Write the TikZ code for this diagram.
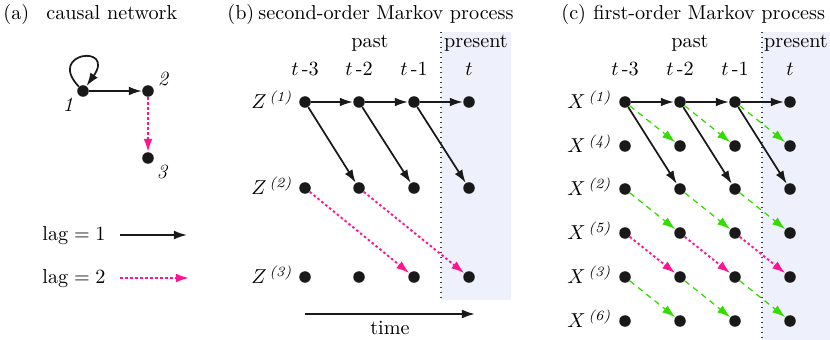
\documentclass[tikz,border=0pt]{standalone}
\usepackage{amsmath}
\usetikzlibrary{arrows.meta}
\definecolor{lagpink}{HTML}{FF1493}
\definecolor{laggreen}{HTML}{33DD00}
\definecolor{shadebg}{HTML}{EEF0FC}
\begin{document}
\begin{tikzpicture}[x=0.52pt,y=-0.52pt,
  every node/.append style={scale=1.05},
  dot/.style={circle,fill=black!90,inner sep=0pt,minimum size=5.7pt},
  tip/.style={-{Latex[length=6.8pt,width=4.6pt]}},
  lagone/.style={tip,draw=black!90,line width=0.9pt},
  lagtwo/.style={tip,draw=lagpink,line width=1pt,dash pattern=on 1.3pt off 1.3pt},
  lagg/.style={tip,draw=laggreen,line width=0.65pt,dash pattern=on 3pt off 2.5pt},
  title/.style={anchor=base west,inner sep=0pt},
  rowlab/.style={anchor=east,inner sep=0pt},
  nlab/.style={inner sep=0pt,font=\itshape},
  sep/.style={draw=black!75,line width=0.6pt,dotted}]
\useasboundingbox (0,0) rectangle (830,340);
% shading
\fill[shadebg] (441,32) rectangle (511,300);
\fill[shadebg] (762,32) rectangle (830,340);
\draw[sep] (441,32) -- (441,300);
\draw[sep] (762,32) -- (762,340);
% titles
\node[title] (ta) at (3,20) {(a)};
\node[title] (tan) at (46,20) {causal network};
\node[title] (tb) at (227,20) {(b)};
\node[title] (tbn) at (258,20) {second-order Markov process};
\node[title] (tc) at (561,20) {(c)};
\node[title] (tcn) at (593,20) {first-order Markov process};
% panel (a)
\node[dot] (a1) at (83,91) {};
\node[dot] (a2) at (148,91) {};
\node[dot] (a3) at (148,158) {};
\node[nlab] (l1) at (68,105) {1};
\node[nlab] (l2) at (163,79) {2};
\node[nlab] (l3) at (162,172) {3};
\draw[lagone] (a1) .. controls (46,52) and (116,44) .. (a1);
\draw[lagone] (a1) -- (a2);
\draw[lagtwo] (a2) -- (a3);
% legend
\node[anchor=base west,inner sep=0pt] (lg1) at (42,240) {$\mathrm{lag}=1$};
\node[anchor=base west,inner sep=0pt] (lg2) at (42,283) {$\mathrm{lag}=2$};
\coordinate (lg1a) at (120,235);
\coordinate (lg1b) at (187,235);
\coordinate (lg2a) at (120,278);
\coordinate (lg2b) at (189,278);
\draw[lagone] (lg1a) -- (lg1b);
\draw[lagtwo] (lg2a) -- (lg2b);
% panel (b)
\node (bpast) at (370,43) {past};
\node (bpres) at (476,43) {present};
\foreach \c/\x/\t in {0/305/{$t\,$-3},1/359/{$t\,$-2},2/414/{$t\,$-1},3/469/{$t$}}{
  \node (bt\c) at (\x,69) {\t};
  \node[dot] (z1\c) at (\x,102) {};
  \node[dot] (z2\c) at (\x,188) {};
  \node[dot] (z3\c) at (\x,277) {};
}
\node[rowlab] (bz1) at (293,100) {$Z^{\,\textit{(1)}}$};
\node[rowlab] (bz2) at (293,186) {$Z^{\,\textit{(2)}}$};
\node[rowlab] (bz3) at (293,275) {$Z^{\,\textit{(3)}}$};
\foreach \a/\b in {0/1,1/2,2/3}{
  \draw[lagone] (z1\a) -- (z1\b);
  \draw[lagone] (z1\a) -- (z2\b);
}
\draw[lagtwo] (z20) -- (z32);
\draw[lagtwo] (z21) -- (z33);
\coordinate (tm1) at (305,314);
\coordinate (tm2) at (475,314);
\draw[tip,line width=1pt,draw=black!90] (tm1) -- (tm2);
\node (tmlab) at (390,328) {time};
% panel (c)
\node (cpast) at (690,43) {past};
\node (cpres) at (796,43) {present};
\foreach \c/\x/\t in {0/625/{$t\,$-3},1/680/{$t\,$-2},2/735/{$t\,$-1},3/790/{$t$}}{
  \node (ct\c) at (\x,69) {\t};
  \node[dot] (x1\c) at (\x,102) {};
  \node[dot] (x4\c) at (\x,146) {};
  \node[dot] (x2\c) at (\x,189) {};
  \node[dot] (x5\c) at (\x,233) {};
  \node[dot] (x3\c) at (\x,277) {};
  \node[dot] (x6\c) at (\x,321) {};
}
\foreach \r/\y in {1/102,4/146,2/189,5/233,3/277,6/321}{
  \node[rowlab] (cx\r) at (612,\y-2) {$X^{\,\textit{(\r)}}$};
}
\foreach \a/\b in {0/1,1/2,2/3}{
  \draw[lagone] (x1\a) -- (x1\b);
  \draw[lagone] (x1\a) -- (x2\b);
  \draw[lagg] (x1\a) -- (x4\b);
  \draw[lagg] (x2\a) -- (x5\b);
  \draw[lagg] (x3\a) -- (x6\b);
  \draw[lagtwo] (x5\a) -- (x3\b);
}
\end{tikzpicture}
\end{document}
